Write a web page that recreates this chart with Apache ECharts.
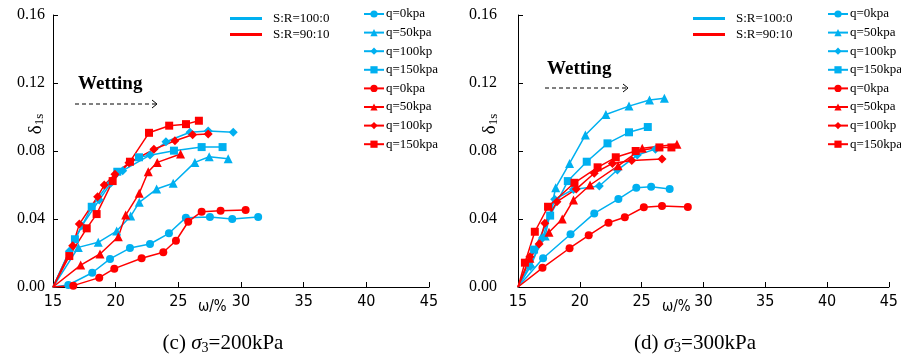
<!DOCTYPE html>
<html>
<head>
<meta charset="utf-8">
<script src="https://cdn.jsdelivr.net/npm/echarts@6/dist/echarts.min.js"></script>
<style>
  html, body { margin: 0; padding: 0; background: #fff; }
  #chart { width: 901px; height: 358px; }
</style>
</head>
<body>
<div id="chart"></div>
<script>
// axis ticks
const xTicks = [15, 20, 25, 30, 35, 40, 45];
const yTicks = [0, 0.04, 0.08, 0.12, 0.16];

// (c) sigma3 = 200 kPa, S:R=100:0 (blue)
const c_blue_q0 = [[15, 0], [16.22, 0.0012], [18.13, 0.0084], [19.55, 0.0165], [21.14, 0.0229], [22.74, 0.0253], [24.25, 0.0316], [25.6, 0.0408], [27.52, 0.0412], [29.3, 0.040], [31.37, 0.0412]];
const c_blue_q50 = [[15, 0], [17.02, 0.0233], [18.61, 0.0263], [20.08, 0.0329], [21.2, 0.0417], [21.88, 0.0498], [23.27, 0.0576], [24.59, 0.061], [26.32, 0.0733], [27.46, 0.0766], [28.98, 0.0754]];
const c_blue_q100 = [[15, 0], [16.3, 0.021], [17.3, 0.036], [18.69, 0.0512], [19.6, 0.061], [20.56, 0.0684], [22.74, 0.0776], [24.01, 0.0854], [25.93, 0.091], [27.38, 0.0917], [29.38, 0.091]];
const c_blue_q150 = [[15, 0], [16.75, 0.0281], [18.09, 0.0472], [20.13, 0.0678], [21.86, 0.0763], [24.65, 0.0802], [26.86, 0.0823], [28.53, 0.0823]];
// (c) sigma3 = 200 kPa, S:R=90:10 (red)
const c_red_q0 = [[15, 0], [16.62, 0.0008], [18.69, 0.0055], [19.89, 0.0108], [22.07, 0.0169], [23.8, 0.0204], [24.81, 0.0272], [25.79, 0.0384], [26.86, 0.0443], [28.37, 0.0449], [30.37, 0.0453]];
const c_red_q50 = [[15, 0], [17.21, 0.0129], [18.75, 0.0194], [20.21, 0.0296], [20.8, 0.0423], [21.88, 0.0551], [22.6, 0.0678], [23.32, 0.0733], [25.18, 0.0782]];
const c_red_q100 = [[15, 0], [16.57, 0.0243], [17.1, 0.037], [18.56, 0.0531], [19.09, 0.060], [19.94, 0.0663], [21.06, 0.0731], [23.05, 0.081], [24.73, 0.086], [26.14, 0.0896], [27.38, 0.090]];
const c_red_q150 = [[15, 0], [16.3, 0.0182], [17.69, 0.0345], [18.48, 0.0429], [19.76, 0.0623], [21.14, 0.0737], [22.66, 0.0907], [24.27, 0.0949], [25.61, 0.0958], [26.64, 0.0978]];

// (d) sigma3 = 300 kPa, S:R=100:0 (blue)
const d_blue_q0 = [[15, 0], [17.03, 0.0169], [19.25, 0.031], [21.17, 0.0433], [23.12, 0.0517], [24.57, 0.0584], [25.77, 0.059], [27.27, 0.0576]];
const d_blue_q50 = [[15, 0], [16.0, 0.0139], [17.2, 0.030], [18.05, 0.0584], [19.17, 0.0727], [20.45, 0.0894], [22.11, 0.1015], [23.98, 0.1064], [25.64, 0.110], [26.84, 0.111]];
const d_blue_q100 = [[15, 0], [16.0, 0.012], [17.0, 0.029], [17.97, 0.0516], [19.49, 0.0574], [21.58, 0.0594], [23.04, 0.0688], [24.65, 0.0776], [26.12, 0.0811]];
const d_blue_q150 = [[15, 0], [16.3, 0.022], [17.6, 0.042], [19.03, 0.0623], [20.56, 0.0737], [22.24, 0.0845], [23.98, 0.091], [25.5, 0.0941]];
// (d) sigma3 = 300 kPa, S:R=90:10 (red)
const d_red_q0 = [[15, 0], [16.98, 0.0113], [19.17, 0.0228], [20.72, 0.0304], [22.32, 0.0378], [23.64, 0.041], [25.18, 0.0469], [26.65, 0.0476], [28.74, 0.047]];
const d_red_q50 = [[15, 0], [15.96, 0.0169], [17.51, 0.0322], [18.58, 0.040], [19.49, 0.0512], [20.83, 0.060], [23.1, 0.0713], [25.05, 0.0816], [27.86, 0.0839]];
const d_red_q100 = [[15, 0], [15.96, 0.0178], [16.71, 0.0253], [17.17, 0.0375], [18.15, 0.0502], [19.71, 0.0576], [21.17, 0.0669], [22.64, 0.0727], [24.2, 0.0744], [26.65, 0.0753]];
const d_red_q150 = [[15, 0], [15.56, 0.0143], [16.36, 0.0325], [17.43, 0.0472], [19.57, 0.0613], [21.44, 0.0704], [22.91, 0.0763], [24.52, 0.080], [26.44, 0.0821], [27.41, 0.0821]];

const qNames = ['q=0kpa', 'q=50kpa', 'q=100kp', 'q=150kpa'];
const srNames = ['S:R=100:0', 'S:R=90:10'];
const panelTitles = ['=200kPa', '=300kPa'];
const panelLetters = ['(c) ', '(d) '];

const BLUE = '#00b0f0';
const RED = '#ff0000';
const symbols = ['circle', 'triangle', 'diamond', 'rect'];
const symSizes = [8, 9, 9, 8];
const serif = 'Liberation Serif';
const narrow = 'Liberation Sans Narrow, DejaVu Sans Condensed, sans-serif';

// red names get a zero-width space so the legend keeps 8 entries
const redName = n => n + '\u200b';

const panels = [
  { blue: [c_blue_q0, c_blue_q50, c_blue_q100, c_blue_q150], red: [c_red_q0, c_red_q50, c_red_q100, c_red_q150] },
  { blue: [d_blue_q0, d_blue_q50, d_blue_q100, d_blue_q150], red: [d_red_q0, d_red_q50, d_red_q100, d_red_q150] }
];

const grids = [
  { left: 53, top: 15, width: 376, height: 272 },
  { left: 518, top: 15, width: 374, height: 272 }
];
const yLabelMargin = [8, 21];

const xAxes = grids.map((g, i) => ({
  type: 'value', gridIndex: i, min: 15, max: 45, interval: 5,
  axisLine: { lineStyle: { color: '#000', width: 1 } },
  axisTick: { inside: true, length: 5, lineStyle: { color: '#000' } },
  splitLine: { show: false },
  axisLabel: { color: '#000', fontFamily: narrow, fontSize: 16, margin: 7 }
}));

const yAxes = grids.map((g, i) => ({
  type: 'value', gridIndex: i, min: 0, max: 0.16, interval: 0.04,
  axisLine: { show: true, lineStyle: { color: '#000', width: 1 } },
  axisTick: { show: true, inside: true, length: 5, lineStyle: { color: '#000' } },
  splitLine: { show: false },
  axisLabel: { color: '#000', fontFamily: serif, fontSize: 16, margin: yLabelMargin[i], formatter: v => v.toFixed(2) }
}));

const toData = pts => pts.map((p, i) => i === 0 ? { value: p, symbol: 'none' } : p);

const series = [];
panels.forEach((p, pi) => {
  // S:R legend entries
  srNames.forEach((n, k) => {
    series.push({
      name: n, type: 'line', xAxisIndex: pi, yAxisIndex: pi, data: [],
      symbol: 'none', color: k === 0 ? BLUE : RED, lineStyle: { width: 3 }
    });
  });
  p.blue.forEach((d, k) => {
    series.push({
      name: qNames[k], type: 'line', xAxisIndex: pi, yAxisIndex: pi,
      data: toData(d), symbol: symbols[k], symbolSize: symSizes[k],
      color: BLUE, lineStyle: { width: 1.5 }
    });
  });
  p.red.forEach((d, k) => {
    series.push({
      name: redName(qNames[k]), type: 'line', xAxisIndex: pi, yAxisIndex: pi,
      data: toData(d), symbol: symbols[k], symbolSize: symSizes[k],
      color: RED, lineStyle: { width: 1.5 }
    });
  });
});

const qLegendData = qNames.concat(qNames.map(redName));

const legends = [];
[[225, 358], [688, 822]].forEach(([srLeft, qLeft]) => {
  legends.push({
    data: srNames, orient: 'vertical', left: srLeft, top: 7, itemWidth: 32, itemHeight: 3,
    icon: 'rect', itemGap: 3, selectedMode: false,
    textStyle: { fontFamily: serif, fontSize: 13, color: '#000', lineHeight: 13, padding: [0, 0, 0, 6] }
  });
  legends.push({
    data: qLegendData, orient: 'vertical', left: qLeft, top: 2, itemWidth: 20, itemHeight: 9,
    itemGap: 4.6, selectedMode: false,
    textStyle: { fontFamily: serif, fontSize: 13, color: '#000', lineHeight: 14, padding: [0, 0, 0, -3] }
  });
});

const titles = [218, 690].map((cx, i) => ({
  text: '{n|' + panelLetters[i] + '}{s|σ}{sub|3}{n|' + panelTitles[i] + '}',
  left: cx, top: 326, textAlign: 'center',
  textStyle: {
    fontWeight: 'normal',
    rich: {
      n: { fontFamily: serif, fontSize: 21, fontWeight: 'normal', color: '#000' },
      s: { fontFamily: serif, fontSize: 21, fontWeight: 'normal', fontStyle: 'italic', color: '#000' },
      sub: { fontFamily: serif, fontSize: 14, fontWeight: 'normal', color: '#000', padding: [10, 0, 0, 0] }
    }
  }
}));

function wetting(x, y, ax, ay, len) {
  return [
    { type: 'text', left: x, top: y, style: { text: 'Wetting', font: 'bold 19px "Liberation Serif"', fill: '#000' } },
    { type: 'line', shape: { x1: ax, y1: ay, x2: ax + len, y2: ay }, style: { stroke: '#000', lineWidth: 1, lineDash: [4, 3] } },
    { type: 'polyline', shape: { points: [[ax + len - 5, ay - 4], [ax + len, ay], [ax + len - 5, ay + 4]] }, style: { stroke: '#000', lineWidth: 1, fill: null } }
  ];
}

function yName(x, y) {
  return {
    type: 'text', x: x, y: y, rotation: Math.PI / 2,
    style: {
      text: '{d|δ}{s|1s}', fill: '#000', align: 'center', verticalAlign: 'middle',
      rich: { d: { fontFamily: serif, fontSize: 19 }, s: { fontFamily: serif, fontSize: 13, padding: [8, 0, 0, 0] } }
    }
  };
}

function xName(x, y) {
  return { type: 'text', left: x, top: y, style: { text: 'ω/%', font: '15px ' + narrow, fill: '#000' } };
}

const graphic = [].concat(
  wetting(78, 75, 75, 104, 82),
  wetting(547, 60, 545, 88, 83),
  [yName(36, 124), yName(490, 124), xName(198, 300), xName(662, 300)]
);

const chart = echarts.init(document.getElementById('chart'));
chart.setOption({
  animation: false,
  title: titles,
  legend: legends,
  grid: grids,
  xAxis: xAxes,
  yAxis: yAxes,
  series: series,
  graphic: graphic
});
</script>
</body>
</html>
